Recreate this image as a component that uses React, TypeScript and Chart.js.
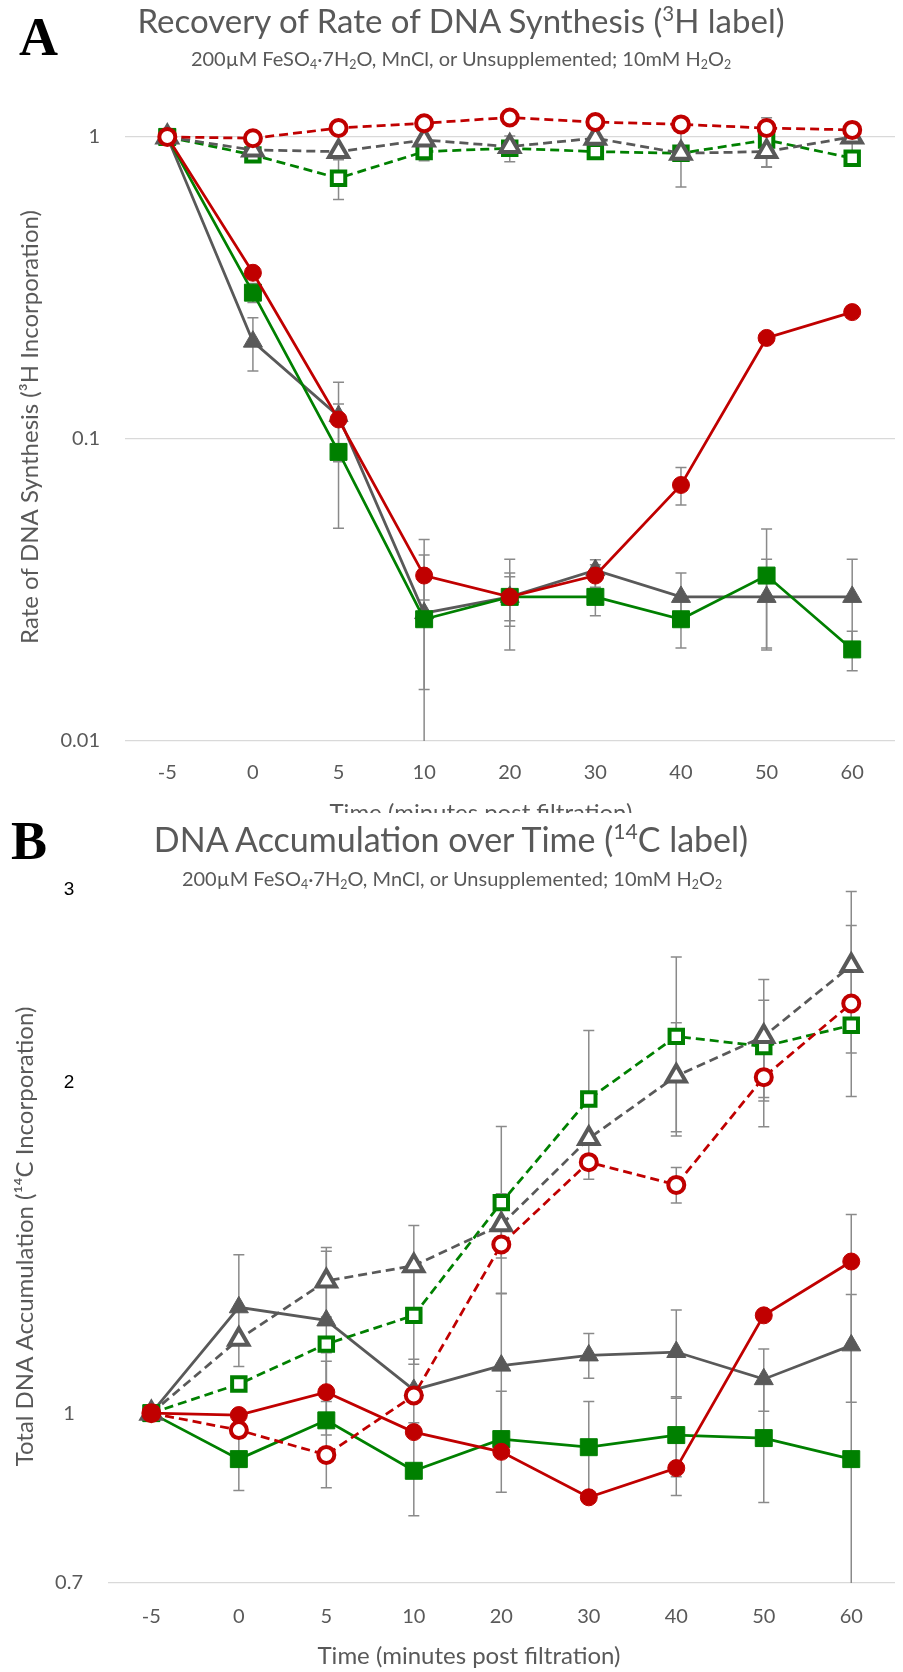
import React, { useEffect, useRef } from "react";
import { Chart, registerables } from "chart.js";

Chart.register(...registerables);

// ---------- data ----------
const categories = ["-5", "0", "5", "10", "20", "30", "40", "50", "60"];

// Panel A: rate of DNA synthesis (3H)
const aRedSolid = [1, 0.355, 0.116, 0.0353, 0.03, 0.0353, 0.0704, 0.216, 0.263];
const aGreenSolid = [1, 0.305, 0.0906, 0.0253, 0.03, 0.03, 0.0253, 0.0353, 0.0201];
const aGraySolid = [1, 0.21, 0.119, 0.0265, 0.03, 0.0368, 0.03, 0.03, 0.03];
const aRedDashed = [1, 0.99, 1.07, 1.11, 1.16, 1.12, 1.1, 1.07, 1.055];
const aGrayDashed = [1, 0.905, 0.894, 0.977, 0.929, 0.99, 0.883, 0.894, 1.0];
const aGreenDashed = [1, 0.872, 0.73, 0.894, 0.917, 0.894, 0.883, 0.977, 0.85];

const aRedSolidErr = [null, null, null, 0.006, 0.005, 0.003, 0.01, null, 0.012];
const aGreenSolidErr = [null, 0.022, 0.04, 0.0105, 0.006, 0.004, 0.005, 0.015, 0.003];
const aGraySolidErr = [null, 0.042, 0.035, 0.02, 0.01, 0.003, 0.006, 0.01, 0.01];
const aRedDashedErr = [null, null, null, null, null, null, null, null, null];
const aGrayDashedErr = [null, null, null, null, null, null, 0.2, 0.1, 0.12];
const aGreenDashedErr = [null, null, 0.11, 0.06, 0.09, null, null, 0.18, null];

const aYTicks = [0.01, 0.1, 1];

// Panel B: DNA accumulation (14C)
const bRedSolid = [1, 0.996, 1.045, 0.961, 0.922, 0.838, 0.891, 1.228, 1.375];
const bGreenSolid = [1, 0.908, 0.985, 0.886, 0.947, 0.931, 0.955, 0.949, 0.908];
const bGraySolid = [1, 1.249, 1.215, 1.05, 1.105, 1.129, 1.137, 1.074, 1.153];
const bRedDashed = [1, 0.965, 0.916, 1.038, 1.425, 1.694, 1.615, 2.025, 2.364];
const bGrayDashed = [1, 1.168, 1.32, 1.363, 1.485, 1.78, 2.03, 2.206, 2.56];
const bGreenDashed = [1, 1.063, 1.156, 1.228, 1.556, 1.934, 2.206, 2.16, 2.258];

const bRedSolidErr = [null, null, 0.09, null, null, null, 0.05, null, null];
const bGreenSolidErr = [null, 0.058, 0.13, 0.08, 0.1, 0.094, 0.08, 0.12, 0.61];
const bGraySolidErr = [null, 0.146, 0.19, 0.07, 0.18, 0.053, 0.105, 0.07, 0.13];
const bRedDashedErr = [null, null, null, null, null, null, 0.06, 0.2, 0.42];
const bGrayDashedErr = [null, null, 0.096, 0.12, 0.1, null, 0.24, 0.28, 0.43];
const bGreenDashedErr = [null, null, null, 0.12, 0.27, 0.3, 0.4, 0.22, null];

const bYTicks = [0.7, 1, 2, 3];

// ---------- styles ----------
const RED = "#C00000";
const GREEN = "#008000";
const GRAY = "#595959";
const TEXT = "#595959";
const FONT = "Lato, 'Open Sans', 'DejaVu Sans', sans-serif";

type Marker = "circle" | "rect" | "triangle";

function series(label: string, values: number[], err: (number | null)[], color: string, dashed: boolean, marker: Marker) {
  const filledRadius = { circle: 8.5, rect: 12, triangle: 11 }[marker];
  const openRadius = { circle: 8, rect: 9.5, triangle: 11 }[marker];
  return {
    label,
    data: values,
    errorBars: err,
    borderColor: color,
    borderWidth: 2.75,
    borderDash: dashed ? [9, 5] : [],
    pointStyle: marker,
    pointRadius: dashed ? openRadius : filledRadius,
    pointBackgroundColor: dashed ? "#ffffff" : color,
    pointBorderColor: color,
    pointBorderWidth: dashed ? 4 : 1,
    tension: 0,
    fill: false,
    clip: false,
  } as any;
}

const errorBarPlugin = {
  id: "errorBars",
  beforeDatasetsDraw(chart: any) {
    const { ctx, chartArea } = chart;
    const y = chart.scales.y;
    ctx.save();
    ctx.strokeStyle = "#8a8a8a";
    ctx.lineWidth = 1.5;
    chart.data.datasets.forEach((ds: any, i: number) => {
      const errs = ds.errorBars;
      if (!errs) return;
      const meta = chart.getDatasetMeta(i);
      meta.data.forEach((pt: any, j: number) => {
        const d = errs[j];
        if (d == null) return;
        const v = ds.data[j];
        const hi = v + d;
        const lo = v - d;
        let yHi = y.getPixelForValue(hi);
        let yLo = lo > 0 ? y.getPixelForValue(lo) : chartArea.bottom + 1000;
        const capHi = yHi >= chartArea.top;
        const capLo = yLo <= chartArea.bottom;
        yHi = Math.max(yHi, chartArea.top);
        yLo = Math.min(yLo, chartArea.bottom);
        const x = pt.x;
        ctx.beginPath();
        ctx.moveTo(x, yHi);
        ctx.lineTo(x, yLo);
        if (capHi) {
          ctx.moveTo(x - 5.5, yHi);
          ctx.lineTo(x + 5.5, yHi);
        }
        if (capLo) {
          ctx.moveTo(x - 5.5, yLo);
          ctx.lineTo(x + 5.5, yLo);
        }
        ctx.stroke();
      });
    });
    ctx.restore();
  },
};

function buildA(canvas: HTMLCanvasElement) {
  return new Chart(canvas, {
    type: "line",
    data: {
      labels: categories,
      datasets: [
        series("Mn dashed", aRedDashed, aRedDashedErr, RED, true, "circle"),
        series("Mn solid", aRedSolid, aRedSolidErr, RED, false, "circle"),
        series("Un dashed", aGrayDashed, aGrayDashedErr, GRAY, true, "triangle"),
        series("Fe dashed", aGreenDashed, aGreenDashedErr, GREEN, true, "rect"),
        series("Fe solid", aGreenSolid, aGreenSolidErr, GREEN, false, "rect"),
        series("Un solid", aGraySolid, aGraySolidErr, GRAY, false, "triangle"),
      ],
    },
    options: {
      responsive: false,
      animation: false,
      devicePixelRatio: 1,
      layout: { padding: { top: 113, right: 2.5, left: 0, bottom: 0 } },
      plugins: { legend: { display: false }, tooltip: { enabled: false }, title: { display: false } },
      scales: {
        x: {
          type: "category",
          offset: true,
          grid: { display: false, drawTicks: false },
          border: { display: false },
          ticks: { color: TEXT, font: { family: FONT, size: 20 }, padding: 20, autoSkip: false, maxRotation: 0 },
          afterFit: (s: any) => {
            s.height = 109;
          },
        },
        y: {
          type: "logarithmic",
          min: 0.01,
          max: 1.2,
          afterBuildTicks: (s: any) => {
            s.ticks = aYTicks.map((v) => ({ value: v }));
          },
          grid: { color: "#d9d9d9", lineWidth: 1.25, drawTicks: false },
          border: { display: false },
          ticks: { color: TEXT, font: { family: FONT, size: 20 }, padding: 24.5, callback: (v: any) => String(v) },
          title: {
            display: true,
            text: "Rate of DNA Synthesis (³H Incorporation)",
            color: TEXT,
            font: { family: FONT, size: 24 },
            padding: { top: 15.6, bottom: 0 },
          },
          afterFit: (s: any) => {
            s.width = 124.5;
          },
        },
      },
    } as any,
    plugins: [errorBarPlugin],
  });
}

function buildB(canvas: HTMLCanvasElement) {
  return new Chart(canvas, {
    type: "line",
    data: {
      labels: categories,
      datasets: [
        series("Mn solid", bRedSolid, bRedSolidErr, RED, false, "circle"),
        series("Mn dashed", bRedDashed, bRedDashedErr, RED, true, "circle"),
        series("Un dashed", bGrayDashed, bGrayDashedErr, GRAY, true, "triangle"),
        series("Fe dashed", bGreenDashed, bGreenDashedErr, GREEN, true, "rect"),
        series("Fe solid", bGreenSolid, bGreenSolidErr, GREEN, false, "rect"),
        series("Un solid", bGraySolid, bGraySolidErr, GRAY, false, "triangle"),
      ],
    },
    options: {
      responsive: false,
      animation: false,
      devicePixelRatio: 1,
      layout: { padding: { top: 77, right: 2.5, left: 0, bottom: 0 } },
      plugins: { legend: { display: false }, tooltip: { enabled: false }, title: { display: false } },
      scales: {
        x: {
          type: "category",
          offset: true,
          grid: { display: false, drawTicks: false },
          border: { display: false },
          ticks: { color: TEXT, font: { family: FONT, size: 20 }, padding: 22, autoSkip: false, maxRotation: 0 },
          afterFit: (s: any) => {
            s.height = 89;
          },
        },
        y: {
          type: "logarithmic",
          min: 0.7,
          max: 3,
          afterBuildTicks: (s: any) => {
            s.ticks = bYTicks.map((v) => ({ value: v }));
          },
          grid: {
            color: (c: any) => (c.tick && c.tick.value === 0.7 ? "#d9d9d9" : "rgba(0,0,0,0)"),
            lineWidth: 1.25,
            drawTicks: false,
          },
          border: { display: false },
          ticks: {
            color: (c: any) => (c.tick && c.tick.value >= 2 ? "#000000" : TEXT),
            font: (c: any) =>
              c.tick && c.tick.value >= 2
                ? { family: "'Liberation Sans', Arial, sans-serif", size: 19 }
                : { family: FONT, size: 20 },
            padding: 24.6,
            crossAlign: "center",
            callback: (v: any) => String(v),
          },
          title: {
            display: true,
            text: "Total DNA Accumulation (¹⁴C Incorporation)",
            color: TEXT,
            font: { family: FONT, size: 24 },
            padding: { top: 10.6, bottom: 0 },
          },
          afterFit: (s: any) => {
            s.width = 107.6;
          },
        },
      },
    } as any,
    plugins: [errorBarPlugin],
  });
}

const supStyle: React.CSSProperties = { fontSize: "0.62em", verticalAlign: "0.6em", lineHeight: 0 };
const subStyle: React.CSSProperties = { fontSize: "0.62em", verticalAlign: "-0.25em", lineHeight: 0 };

function Subtitle() {
  return (
    <>
      200µM FeSO<span style={subStyle}>4</span>·7H<span style={subStyle}>2</span>O, MnCl, or Unsupplemented; 10mM H
      <span style={subStyle}>2</span>O<span style={subStyle}>2</span>
    </>
  );
}

export default function App() {
  const refA = useRef<HTMLCanvasElement>(null);
  const refB = useRef<HTMLCanvasElement>(null);

  useEffect(() => {
    document.body.style.margin = "0";
    const a = buildA(refA.current!);
    const b = buildB(refB.current!);
    return () => {
      a.destroy();
      b.destroy();
    };
  }, []);

  const abs: React.CSSProperties = { position: "absolute", whiteSpace: "nowrap", lineHeight: 1 };
  const titleStyle: React.CSSProperties = {
    ...abs,
    left: 0,
    textAlign: "center",
    fontFamily: FONT,
    fontWeight: 400,
    fontSize: 33,
    color: TEXT,
  };
  const subStyleDiv: React.CSSProperties = {
    ...abs,
    left: 0,
    textAlign: "center",
    fontFamily: FONT,
    fontSize: 20,
    color: TEXT,
  };
  const letterStyle: React.CSSProperties = {
    ...abs,
    fontFamily: "'Liberation Serif', 'Times New Roman', serif",
    fontWeight: 700,
    fontSize: 54,
    color: "#000",
  };
  const xTitleStyle: React.CSSProperties = {
    ...abs,
    left: 0,
    textAlign: "center",
    fontFamily: FONT,
    fontSize: 24,
    color: TEXT,
  };

  return (
    <div style={{ position: "relative", width: 903, height: 1672, overflow: "hidden", background: "#fff" }}>
      <div style={{ position: "absolute", left: 0, top: 0, width: 903, height: 813, overflow: "hidden" }}>
        <canvas ref={refA} width={910} height={850} style={{ display: "block", width: 910, height: 850 }} />
        <div style={{ ...letterStyle, left: 19, top: 10 }}>A</div>
        <div style={{ ...titleStyle, top: 4, width: 922 }}>
          Recovery of Rate of DNA Synthesis (<span style={supStyle}>3</span>H label)
        </div>
        <div style={{ ...subStyleDiv, top: 47.5, width: 922 }}>
          <Subtitle />
        </div>
        <div style={{ ...xTitleStyle, top: 800, width: 962 }}>Time (minutes post filtration)</div>
      </div>
      <div style={{ position: "absolute", left: 0, top: 813, width: 903, height: 859, overflow: "hidden" }}>
        <canvas ref={refB} width={910} height={859} style={{ display: "block", width: 910, height: 859 }} />
        <div style={{ ...letterStyle, left: 11, top: 1 }}>B</div>
        <div style={{ ...titleStyle, top: 9, fontSize: 34, width: 902 }}>
          DNA Accumulation over Time (<span style={supStyle}>14</span>C label)
        </div>
        <div style={{ ...subStyleDiv, top: 54.5, width: 904 }}>
          <Subtitle />
        </div>
        <div style={{ ...xTitleStyle, top: 830, width: 938 }}>Time (minutes post filtration)</div>
      </div>
    </div>
  );
}
